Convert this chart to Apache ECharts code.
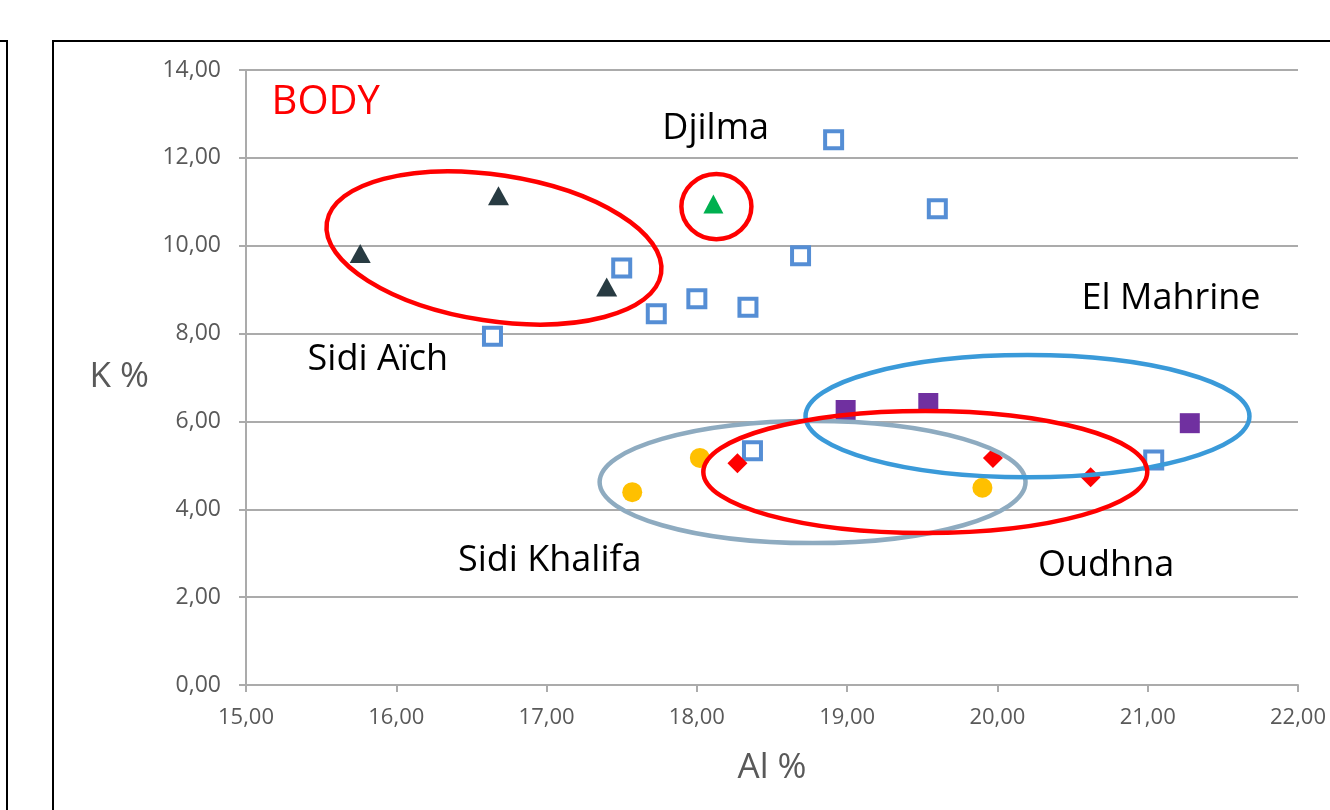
<!DOCTYPE html>
<html>
<head>
<meta charset="utf-8">
<script src="https://cdn.jsdelivr.net/npm/echarts@6/dist/echarts.min.js"></script>
<style>
  html, body { margin: 0; padding: 0; background: #fff; }
  #chart { width: 1330px; height: 810px; }
</style>
</head>
<body>
<div id="chart"></div>
<script>
'use strict';

// points: [Al %, K %]
var sidiAich = [[15.76, 9.82], [16.68, 11.14], [17.40, 9.06]];
var djilma = [[18.11, 10.95]];
var hollowSq = [[18.91, 12.41], [19.60, 10.84], [17.50, 9.49], [18.69, 9.77], [18.00, 8.79],
    [17.73, 8.45], [18.34, 8.60], [16.64, 7.94], [18.37, 5.33], [21.04, 5.12]];
var elMahrine = [[18.99, 6.26], [19.54, 6.42], [21.28, 5.96]];
var oudhna = [[18.27, 5.05], [19.97, 5.17], [20.62, 4.73]];
var sidiKhalifa = [[17.57, 4.39], [18.02, 5.17], [19.90, 4.49]];

var xTicks = [15, 22, 1];   // min, max, interval
var yTicks = [0, 14, 2];

var axisGrey = '#ababab';
var labelGrey = '#595959';
var fontFam = '"Open Sans", "Noto Sans", sans-serif';

function fmt(v) {
    return v.toFixed(2).replace('.', ',');
}

var chart = echarts.init(document.getElementById('chart'));

var option = {
    animation: false,
    grid: {
        left: 246,
        right: 32,
        top: 70,
        bottom: 125
    },
    xAxis: {
        type: 'value',
        min: xTicks[0],
        max: xTicks[1],
        interval: xTicks[2],
        name: 'Al %',
        nameLocation: 'middle',
        nameGap: 66,
        nameTextStyle: { color: labelGrey, fontSize: 35, fontFamily: fontFam },
        axisLine: { show: true, lineStyle: { color: axisGrey, width: 2 } },
        axisTick: { show: true, length: 7, lineStyle: { color: axisGrey, width: 2 } },
        axisLabel: { color: labelGrey, fontSize: 22, fontFamily: fontFam, margin: 22, formatter: fmt },
        splitLine: { show: false }
    },
    yAxis: {
        type: 'value',
        min: yTicks[0],
        max: yTicks[1],
        interval: yTicks[2],
        name: 'K %',
        nameLocation: 'middle',
        nameRotate: 0,
        nameGap: 97,
        nameTextStyle: { color: labelGrey, fontSize: 35, fontFamily: fontFam },
        axisLine: { show: true, lineStyle: { color: axisGrey, width: 2 } },
        axisTick: { show: true, length: 7, lineStyle: { color: axisGrey, width: 2 } },
        axisLabel: { color: labelGrey, fontSize: 23, fontFamily: fontFam, margin: 25, formatter: fmt },
        splitLine: { show: true, lineStyle: { color: axisGrey, width: 2 } }
    },
    series: [{
        name: 'Autres',
        type: 'scatter',
        symbol: 'rect',
        symbolSize: 17,
        itemStyle: { color: '#fff', borderColor: '#558ed5', borderWidth: 4, opacity: 1 },
        data: hollowSq
    }, {
        name: 'Sidi Aïch',
        type: 'scatter',
        symbol: 'triangle',
        symbolSize: [21, 19],
        itemStyle: { color: '#283b42', opacity: 1 },
        data: sidiAich
    }, {
        name: 'Djilma',
        type: 'scatter',
        symbol: 'triangle',
        symbolSize: [20, 19],
        itemStyle: { color: '#00b050', opacity: 1 },
        data: djilma
    }, {
        name: 'El Mahrine',
        type: 'scatter',
        symbol: 'rect',
        symbolSize: 20,
        itemStyle: { color: '#7030a0', opacity: 1 },
        data: elMahrine
    }, {
        name: 'Oudhna',
        type: 'scatter',
        symbol: 'diamond',
        symbolSize: 20,
        itemStyle: { color: '#ff0000', opacity: 1 },
        data: oudhna
    }, {
        name: 'Sidi Khalifa',
        type: 'scatter',
        symbol: 'circle',
        symbolSize: 20,
        itemStyle: { color: '#ffc000', opacity: 1 },
        data: sidiKhalifa
    }]
};

chart.setOption(option);

// group outlines, in data units (centre x, centre y, radius x, radius y, tilt deg)
var rings = [
    { c: [16.65, 9.95], r: [1.125, 1.66], tilt: 8.7, color: '#ff0000' },
    { c: [18.13, 10.89], r: [0.233, 0.74], tilt: 0, color: '#ff0000' },
    { c: [18.77, 4.62], r: [1.417, 1.39], tilt: 0, color: '#8eabc0' },
    { c: [20.20, 6.12], r: [1.477, 1.39], tilt: 0, color: '#3a9ad9' },
    { c: [19.52, 4.85], r: [1.477, 1.39], tilt: 0, color: '#ff0000' }
];

// site names, left edge / middle in data units
var notes = [
    { t: 'BODY', p: [15.17, 13.25], size: 40, color: '#ff0000' },
    { t: 'Djilma', p: [17.77, 12.66], size: 36, color: '#000' },
    { t: 'Sidi Aïch', p: [15.41, 7.40], size: 36, color: '#000' },
    { t: 'El Mahrine', p: [20.56, 8.79], size: 36, color: '#000' },
    { t: 'Sidi Khalifa', p: [16.41, 2.82], size: 36, color: '#000' },
    { t: 'Oudhna', p: [20.27, 2.71], size: 36, color: '#000' }
];

var o = chart.convertToPixel({ gridIndex: 0 }, [15, 0]);
var u = chart.convertToPixel({ gridIndex: 0 }, [16, 1]);
var pxX = u[0] - o[0];
var pxY = o[1] - u[1];

var graphics = [{
    type: 'rect',
    shape: { x: 53, y: 41, width: 1400, height: 900 },
    style: { fill: 'none', stroke: '#000', lineWidth: 2 },
    silent: true
}, {
    type: 'rect',
    shape: { x: -100, y: 41, width: 107, height: 900 },
    style: { fill: 'none', stroke: '#000', lineWidth: 2 },
    silent: true
}];

rings.forEach(function (e) {
    var p = chart.convertToPixel({ gridIndex: 0 }, e.c);
    graphics.push({
        type: 'ellipse',
        x: p[0],
        y: p[1],
        rotation: -e.tilt * Math.PI / 180,
        shape: { cx: 0, cy: 0, rx: e.r[0] * pxX, ry: e.r[1] * pxY },
        style: { fill: 'none', stroke: e.color, lineWidth: 4.5 },
        z: 100,
        silent: true
    });
});

notes.forEach(function (n) {
    var p = chart.convertToPixel({ gridIndex: 0 }, n.p);
    graphics.push({
        type: 'text',
        x: p[0],
        y: p[1],
        style: {
            text: n.t,
            fill: n.color,
            fontSize: n.size,
            fontFamily: fontFam,
            align: 'left',
            verticalAlign: 'middle'
        },
        z: 101,
        silent: true
    });
});

chart.setOption({ graphic: graphics });
</script>
</body>
</html>
